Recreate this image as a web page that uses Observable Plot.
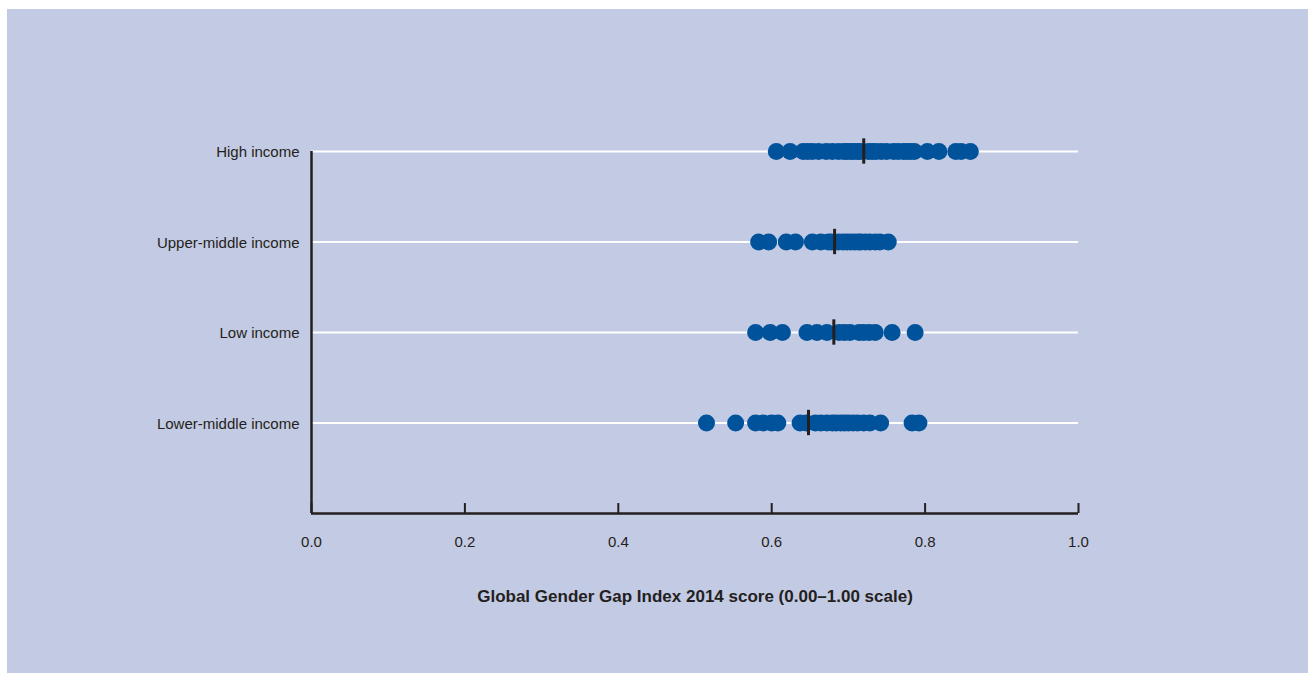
<!DOCTYPE html>
<html>
<head>
<meta charset="utf-8">
<script src="https://cdn.jsdelivr.net/npm/d3@7"></script>
<script src="https://cdn.jsdelivr.net/npm/@observablehq/plot@0.6"></script>
<style>
  html, body { margin: 0; padding: 0; background: #ffffff; }
  #panel { position: absolute; left: 7px; top: 9px; width: 1301px; height: 664px; background: #c3cae3; }
  #chart { position: absolute; left: 0; top: 0; }
</style>
</head>
<body>
<div id="panel"><div id="chart"></div></div>
<script>
const categories = ["High income", "Upper-middle income", "Low income", "Lower-middle income"];

const highIncome = [0.606, 0.624, 0.641, 0.647, 0.653, 0.661, 0.671, 0.679, 0.687, 0.694, 0.698, 0.703,
  0.707, 0.712, 0.716, 0.726, 0.731, 0.736, 0.743, 0.750, 0.759, 0.765, 0.772, 0.776, 0.781, 0.786,
  0.803, 0.818, 0.840, 0.847, 0.859];
const upperMiddleIncome = [0.583, 0.596, 0.619, 0.631, 0.653, 0.664, 0.674, 0.678, 0.687, 0.693, 0.698,
  0.703, 0.708, 0.713, 0.716, 0.722, 0.728, 0.735, 0.741, 0.752];
const lowIncome = [0.579, 0.598, 0.614, 0.646, 0.659, 0.672, 0.688, 0.695, 0.702, 0.714, 0.720, 0.727,
  0.735, 0.757, 0.787];
const lowerMiddleIncome = [0.515, 0.553, 0.579, 0.589, 0.600, 0.608, 0.637, 0.645, 0.657, 0.664, 0.672,
  0.679, 0.684, 0.690, 0.695, 0.700, 0.706, 0.712, 0.720, 0.728, 0.742, 0.783, 0.792];
const medians = [0.720, 0.682, 0.681, 0.648];
const xTicks = [0, 0.2, 0.4, 0.6, 0.8, 1.0];
const xTitle = "Global Gender Gap Index 2014 score (0.00–1.00 scale)";

const seriesValues = [highIncome, upperMiddleIncome, lowIncome, lowerMiddleIncome];
// numeric row position: top category highest
const rowOf = (i) => categories.length - i;
const dots = seriesValues.flatMap((vals, i) => vals.map(v => ({category: categories[i], row: rowOf(i), value: v})));
const medianData = medians.map((v, i) => ({category: categories[i], row: rowOf(i), value: v}));
const rows = categories.map((c, i) => rowOf(i));

const ink = "#231f20";
const W = 1301, H = 664;

const chart = Plot.plot({
  width: W,
  height: H,
  marginLeft: 304,
  marginRight: 230,
  marginTop: 142,
  marginBottom: 160,
  style: {background: "transparent", fontFamily: "'Liberation Sans Narrow', 'Arial Narrow', 'Liberation Sans', sans-serif", color: ink},
  x: {domain: [0, 1]},
  y: {domain: [0, 4]},
  marks: [
    Plot.ruleY(rows, {x1: 0, x2: 1, stroke: "#ffffff", strokeWidth: 2}),
    Plot.ruleX([0], {y1: 0, y2: 4, stroke: ink, strokeWidth: 2.5}),
    Plot.ruleY([0], {x1: 0, x2: 1, stroke: ink, strokeWidth: 2.5}),
    Plot.ruleX(xTicks, {y1: 0, y2: 0.11, stroke: ink, strokeWidth: 2}),
    Plot.dot(dots, {x: "value", y: "row", r: 8.5, fill: "#00529b", stroke: "none"}),
    Plot.ruleX(medianData, {x: "value", y1: d => d.row - 0.14, y2: d => d.row + 0.14, stroke: ink, strokeWidth: 3}),
    Plot.axisY({ticks: rows, tickFormat: d => categories[categories.length - d], tickSize: 0, tickPadding: 12, dy: 1, fontSize: 15, fill: ink, label: null}),
    Plot.axisX({ticks: xTicks, tickFormat: d3.format(".1f"), tickSize: 0, tickPadding: 23, fontSize: 15, fill: ink, label: null}),
    Plot.text([xTitle], {text: d => d, frameAnchor: "bottom", dy: 88, fontSize: 17, fontWeight: "bold", fill: ink})
  ]
});
document.getElementById("chart").appendChild(chart);
</script>
</body>
</html>
